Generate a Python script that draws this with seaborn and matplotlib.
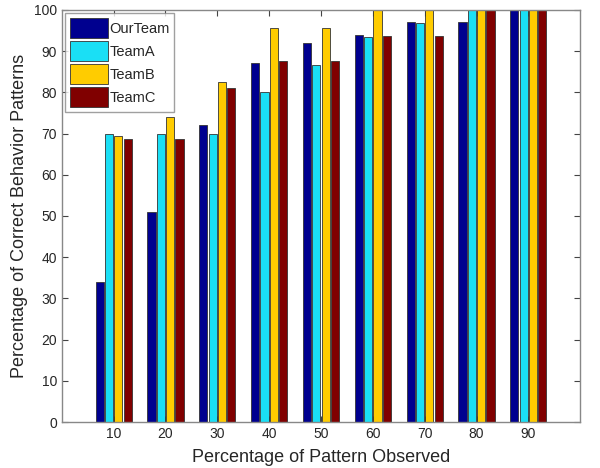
import pandas as pd
import matplotlib
matplotlib.use("Agg")
import matplotlib.pyplot as plt
import seaborn as sns

# 데이터
observed = [10, 20, 30, 40, 50, 60, 70, 80, 90]
teams = ['OurTeam', 'TeamA', 'TeamB', 'TeamC']
our_team = [34, 51, 72, 87, 92, 94, 97, 97, 100]
team_a = [70, 70, 70, 80, 86.5, 93.5, 96.7, 100, 100]
team_b = [69.5, 74, 82.5, 95.5, 95.5, 100, 100, 100, 100]
team_c = [68.7, 68.7, 81, 87.5, 87.5, 93.7, 93.7, 100, 100]
colors = ['#00008F', '#1ADFF5', '#FFCC00', '#800000']

df = pd.DataFrame({
    'observed': observed * 4,
    'team': [t for t in teams for _ in observed],
    'value': our_team + team_a + team_b + team_c,
})

sns.set_style('white')
plt.rcParams['font.family'] = ['Liberation Sans', 'DejaVu Sans']

fig = plt.figure(figsize=(6, 4.68), dpi=100)
ax = fig.add_axes([0.103, 0.098, 0.864, 0.881])

sns.barplot(data=df, x='observed', y='value', hue='team', palette=colors,
            saturation=1, width=0.72, edgecolor='#333333', linewidth=0.6, ax=ax)

# 막대 사이 간격
for p in ax.patches:
    w = p.get_width()
    if w > 0:
        p.set_x(p.get_x() + w * 0.06)
        p.set_width(w * 0.88)

ax.set_xlim(-1, 9)
ax.set_ylim(0, 100)
ax.set_yticks(range(0, 101, 10))
ax.set_xlabel('Percentage of Pattern Observed', fontsize=13, labelpad=6)
ax.set_ylabel('Percentage of Correct Behavior Patterns', fontsize=13)
ax.tick_params(direction='in', length=4, labelsize=10, top=True, right=True,
               bottom=True, left=True, color='#444444')
for s in ax.spines.values():
    s.set_color('#888888')
    s.set_linewidth(1)

ax.legend(loc='upper left', fontsize=10.5, frameon=True, fancybox=False,
          edgecolor='#888888', handlelength=2.6, handleheight=1.75,
          borderpad=0.3, labelspacing=0.2, handletextpad=0.1,
          borderaxespad=0.25, title=None)

fig.savefig('out.png', dpi=100)
